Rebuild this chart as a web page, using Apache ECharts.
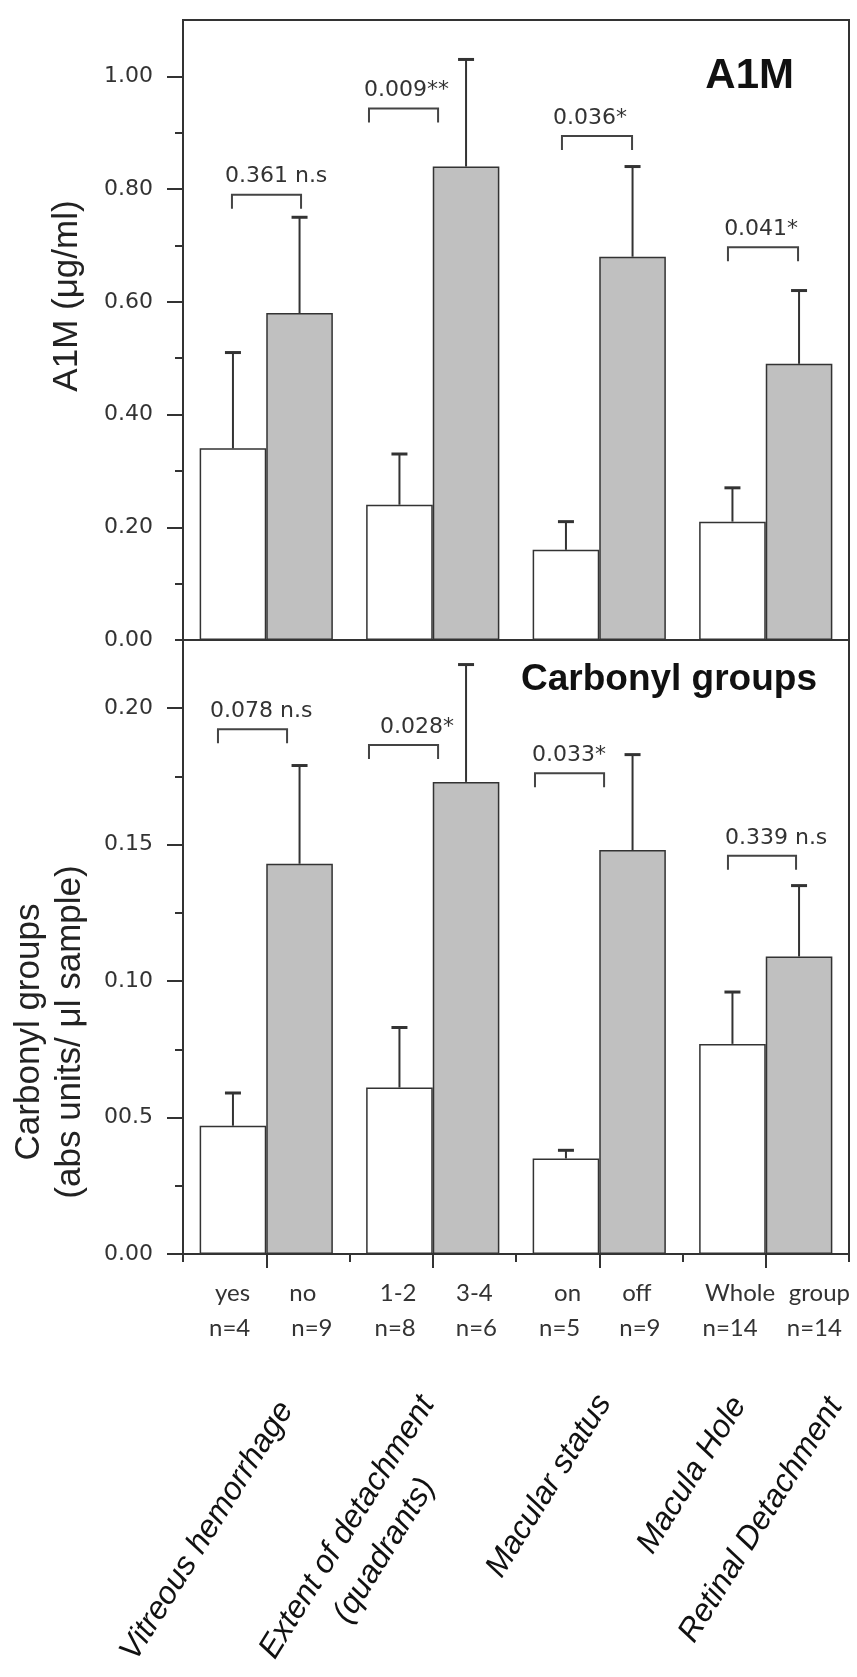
<!DOCTYPE html>
<html><head><meta charset="utf-8">
<script src="https://cdn.jsdelivr.net/npm/echarts@6/dist/echarts.min.js"></script>
<style>html,body{margin:0;padding:0;background:#fff}#c{width:857px;height:1677px}</style>
</head><body><div id="c"></div>
<script>
// ---------- data ----------
const groups = ['Vitreous hemorrhage','Extent of detachment','Macular status','Whole group'];
const subCats = ['yes','no','1-2','3-4','on','off','Whole','group'];
const subN = ['n=4','n=9','n=8','n=6','n=5','n=9','n=14','n=14'];
const groupLabels = ['Vitreous hemorrhage','Extent of detachment\n(quadrants)','Macular status','Macula Hole','Retinal Detachment'];

const a1mWhite    = [0.34, 0.24, 0.16, 0.21];
const a1mWhiteErr = [0.51, 0.33, 0.21, 0.27];
const a1mGray     = [0.58, 0.84, 0.68, 0.49];
const a1mGrayErr  = [0.75, 1.03, 0.84, 0.62];

const carbWhite    = [0.047, 0.061, 0.035, 0.077];
const carbWhiteErr = [0.059, 0.083, 0.038, 0.096];
const carbGray     = [0.143, 0.173, 0.148, 0.109];
const carbGrayErr  = [0.179, 0.216, 0.183, 0.135];

const a1mP    = ['0.361 n.s','0.009**','0.036*','0.041*'];
const a1mBrX1 = [0.294, 1.117, 2.276, 3.273];
const a1mBrX2 = [0.709, 1.532, 2.697, 3.694];
const a1mBrY  = [0.790, 0.943, 0.894, 0.697];
const a1mPX   = [0.252, 1.087, 2.222, 3.250];

const carbP    = ['0.078 n.s','0.028*','0.033*','0.339 n.s'];
const carbBrX1 = [0.210, 1.117, 2.114, 3.273];
const carbBrX2 = [0.625, 1.532, 2.529, 3.682];
const carbBrY  = [0.1923, 0.1865, 0.1762, 0.1459];
const carbPX   = [0.162, 1.183, 2.096, 3.255];

const a1mTicks = [0, 0.2, 0.4, 0.6, 0.8, 1.0];
const a1mTickLabels = ['0.00','0.20','0.40','0.60','0.80','1.00'];
const a1mMinor = [0.1, 0.3, 0.5, 0.7, 0.9];
const carbTicks = [0, 0.05, 0.10, 0.15, 0.20];
const carbTickLabels = ['0.00','00.5','0.10','0.15','0.20'];
const carbMinor = [0.025, 0.075, 0.125, 0.175, 0.225];

// ---------- layout tweaks (pixel shifts of sub-labels) ----------
const subShift = [8, -5, 7, 0, 10, -4, 16, 12];
const nShift   = [5, 4, 4, 2, 2, -1, 6, 7];

// ---------- helpers ----------
const INK = '#333';
const TXT = '#222';
function labelFor(ticks, labels) {
  return v => { const i = ticks.findIndex(t => Math.abs(t - v) < 1e-9); return i >= 0 ? labels[i] : ''; };
}
function errData(vals, errs, side) { return vals.map((v, i) => [i, errs[i], v, side]); }
function errRender(params, api) {
  const c = api.value(0), top = api.value(1), base = api.value(2), side = api.value(3);
  const band = api.size([1, 0])[0];
  const x = api.coord([c, 0])[0] + side * band * 0.2;
  const y1 = api.coord([c, base])[1], y2 = api.coord([c, top])[1];
  return { type: 'group', children: [
    { type: 'line', shape: { x1: x, y1: y1, x2: x, y2: y2 }, style: { stroke: INK, lineWidth: 2 } },
    { type: 'line', shape: { x1: x - 8, y1: y2, x2: x + 8, y2: y2 }, style: { stroke: INK, lineWidth: 3 } }
  ]};
}
function brData(x1, x2, y, px) { return x1.map((v, i) => [v, x2[i], y[i], px[i]]); }
function brRender(labels) {
  return function (params, api) {
    const a = api.coord([api.value(0), api.value(2)]);
    const b = api.coord([api.value(1), api.value(2)]);
    const t = api.coord([api.value(3), api.value(2)]);
    const leg = 14;
    return { type: 'group', children: [
      { type: 'polyline', shape: { points: [[a[0], a[1] + leg], [a[0], a[1]], [b[0], b[1]], [b[0], b[1] + leg]] },
        style: { stroke: '#444', lineWidth: 2, fill: null } },
      { type: 'text', x: t[0], y: a[1] - 18,
        style: { text: labels[params.dataIndex], fill: '#333', font: '22px "DejaVu Sans"', align: 'left', verticalAlign: 'middle' } }
    ]};
  };
}
function shiftPad(d) { return d >= 0 ? [0, 0, 0, 2 * d] : [0, -2 * d, 0, 0]; }
const subRich = {};
subCats.forEach((s, i) => {
  subRich['s' + i] = { padding: shiftPad(subShift[i]), fontFamily: 'Lato', fontSize: 24, color: '#333', lineHeight: 35 };
  subRich['n' + i] = { padding: shiftPad(nShift[i]), fontFamily: 'Lato', fontSize: 24, color: '#333', lineHeight: 35 };
});

const chart = echarts.init(document.getElementById('c'), null, { renderer: 'canvas' });
const gridBase = { left: 183, right: 8, show: true, borderColor: INK, borderWidth: 2, backgroundColor: 'transparent' };
const tickLabelStyle = { color: '#333', fontSize: 22, fontFamily: 'DejaVu Sans', margin: 30 };

const option = {
  animation: false,
  backgroundColor: '#fff',
  grid: [
    Object.assign({ top: 20, height: 620 }, gridBase),
    Object.assign({ top: 640, height: 614 }, gridBase)
  ],
  xAxis: [
    { type: 'category', gridIndex: 0, data: groups, position: 'bottom',
      axisLine: { show: true, onZero: false, lineStyle: { color: INK, width: 2 } },
      axisTick: { show: false }, axisLabel: { show: false }, splitLine: { show: false } },
    { type: 'value', gridIndex: 0, min: 0, max: 4, show: false },
    { type: 'category', gridIndex: 1, data: groups, position: 'bottom',
      axisLine: { show: true, onZero: false, lineStyle: { color: INK, width: 2 } },
      axisTick: { show: true, length: 8, lineStyle: { color: INK, width: 2 } },
      axisLabel: { show: false }, splitLine: { show: false } },
    { type: 'value', gridIndex: 1, min: 0, max: 4, position: 'bottom',
      axisLine: { show: false, onZero: false },
      axisTick: { show: true, length: 14, customValues: [0.5, 1.5, 2.5, 3.5], lineStyle: { color: INK, width: 2 } },
      axisLabel: { show: false }, splitLine: { show: false } },
    { type: 'category', gridIndex: 1, data: subCats, position: 'bottom',
      axisLine: { show: false, onZero: false }, axisTick: { show: false }, splitLine: { show: false },
      axisLabel: { show: true, interval: 0, margin: 22, color: '#333', fontFamily: 'Lato', fontSize: 24, lineHeight: 35,
        formatter: (v, i) => '{s' + i + '|' + v + '}\n{n' + i + '|' + subN[i] + '}', rich: subRich } }
  ],
  yAxis: [
    { type: 'value', gridIndex: 0, min: 0, max: 1.1, position: 'left',
      axisLine: { show: true, lineStyle: { color: INK, width: 2 } },
      axisTick: { show: true, length: 16, customValues: a1mTicks.slice(1), lineStyle: { color: INK, width: 2 } },
      axisLabel: Object.assign({ customValues: a1mTicks, formatter: labelFor(a1mTicks, a1mTickLabels) }, tickLabelStyle),
      splitLine: { show: false } },
    { type: 'value', gridIndex: 0, min: 0, max: 1.1, position: 'left',
      axisLine: { show: false }, axisLabel: { show: false }, splitLine: { show: false },
      axisTick: { show: true, length: 8, customValues: a1mMinor, lineStyle: { color: INK, width: 2 } } },
    { type: 'value', gridIndex: 1, min: 0, max: 0.225, position: 'left',
      axisLine: { show: true, lineStyle: { color: INK, width: 2 } },
      axisTick: { show: true, length: 16, customValues: carbTicks, lineStyle: { color: INK, width: 2 } },
      axisLabel: Object.assign({ customValues: carbTicks, formatter: labelFor(carbTicks, carbTickLabels) }, tickLabelStyle),
      splitLine: { show: false } },
    { type: 'value', gridIndex: 1, min: 0, max: 0.225, position: 'left',
      axisLine: { show: false }, axisLabel: { show: false }, splitLine: { show: false },
      axisTick: { show: true, length: 8, customValues: carbMinor, lineStyle: { color: INK, width: 2 } } }
  ],
  series: [
    { type: 'bar', xAxisIndex: 0, yAxisIndex: 0, data: a1mWhite, barGap: '0%', barCategoryGap: '20%',
      itemStyle: { color: '#ffffff', borderColor: INK, borderWidth: 1.5 } },
    { type: 'bar', xAxisIndex: 0, yAxisIndex: 0, data: a1mGray, barGap: '0%', barCategoryGap: '20%',
      itemStyle: { color: '#c0c0c0', borderColor: INK, borderWidth: 1.5 } },
    { type: 'custom', xAxisIndex: 0, yAxisIndex: 0, data: errData(a1mWhite, a1mWhiteErr, -1), renderItem: errRender, z: 3 },
    { type: 'custom', xAxisIndex: 0, yAxisIndex: 0, data: errData(a1mGray, a1mGrayErr, 1), renderItem: errRender, z: 3 },
    { type: 'custom', xAxisIndex: 1, yAxisIndex: 0, data: brData(a1mBrX1, a1mBrX2, a1mBrY, a1mPX), renderItem: brRender(a1mP), z: 3 },

    { type: 'bar', xAxisIndex: 2, yAxisIndex: 2, data: carbWhite, barGap: '0%', barCategoryGap: '20%',
      itemStyle: { color: '#ffffff', borderColor: INK, borderWidth: 1.5 } },
    { type: 'bar', xAxisIndex: 2, yAxisIndex: 2, data: carbGray, barGap: '0%', barCategoryGap: '20%',
      itemStyle: { color: '#c0c0c0', borderColor: INK, borderWidth: 1.5 } },
    { type: 'custom', xAxisIndex: 2, yAxisIndex: 2, data: errData(carbWhite, carbWhiteErr, -1), renderItem: errRender, z: 3 },
    { type: 'custom', xAxisIndex: 2, yAxisIndex: 2, data: errData(carbGray, carbGrayErr, 1), renderItem: errRender, z: 3 },
    { type: 'custom', xAxisIndex: 3, yAxisIndex: 2, data: brData(carbBrX1, carbBrX2, carbBrY, carbPX), renderItem: brRender(carbP), z: 3 }
  ],
  graphic: [
    { type: 'text', x: 794, y: 76, style: { text: 'A1M', font: 'bold 42px "Liberation Sans"', fill: '#111', align: 'right', verticalAlign: 'middle' } },
    { type: 'text', x: 817, y: 680, style: { text: 'Carbonyl groups', font: 'bold 37px "Liberation Sans"', fill: '#111', align: 'right', verticalAlign: 'middle' } },
    { type: 'text', x: 67, y: 296, rotation: Math.PI / 2,
      style: { text: 'A1M (μg/ml)', font: '35px "Liberation Sans"', fill: TXT, align: 'center', verticalAlign: 'middle' } },
    { type: 'text', x: 50, y: 1032, rotation: Math.PI / 2,
      style: { text: 'Carbonyl groups\n(abs units/ μl sample)', font: '35px "Liberation Sans"', lineHeight: 41, fill: TXT, align: 'center', verticalAlign: 'middle' } }
  ].concat([[207, 1531], [366, 1539], [549, 1486], [692, 1475], [761, 1520]].map((p, i) => ({
    type: 'text', x: p[0], y: p[1], rotation: 58 * Math.PI / 180,
    style: { text: groupLabels[i], font: 'italic 32px "Liberation Sans"', lineHeight: 44, fill: '#111', align: 'center', verticalAlign: 'middle' }
  })))
};
chart.setOption(option);
</script></body></html>
